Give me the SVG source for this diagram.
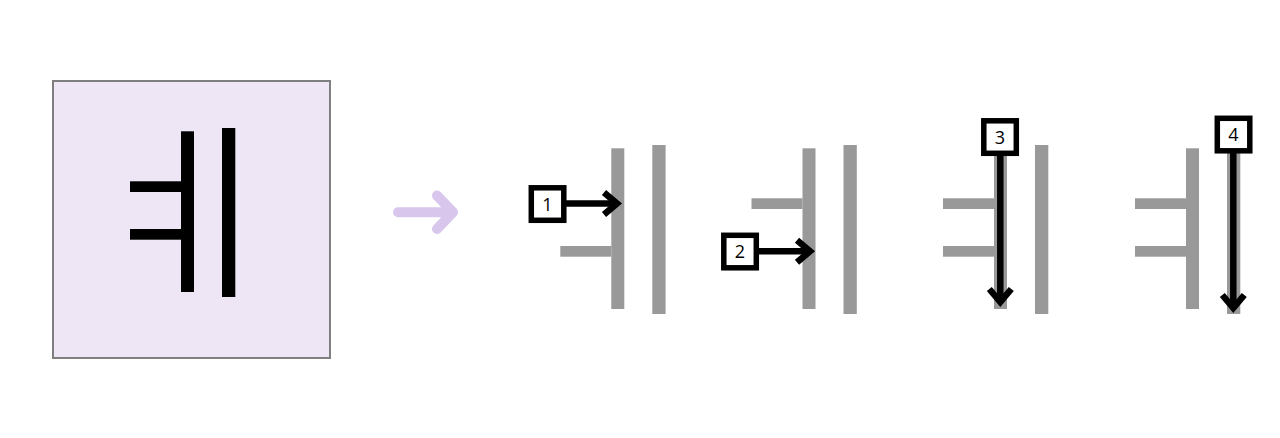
<svg xmlns="http://www.w3.org/2000/svg" width="1280" height="438" viewBox="0 0 1280 438">
  <style>
    .stk { fill: #999999; }
    .blk { fill: #000000; }
    .numbox { fill: #ffffff; stroke: #000000; stroke-width: 5.5; }
    .num { font-family: "Open Sans", "Lato", "Liberation Sans", sans-serif; font-weight: 400; font-size: 18px; fill: #000000; text-anchor: middle; }
    .arr { stroke: #000000; stroke-width: 6.5; fill: none; marker-end: url(#chev); }
    .big { stroke: #d9c6ec; stroke-width: 10; fill: none; stroke-linecap: round; stroke-linejoin: round; }
  </style>
  <defs>
    <marker id="chev" markerUnits="userSpaceOnUse" viewBox="-25 -20 40 40" refX="0" refY="0" markerWidth="40" markerHeight="40" orient="auto" overflow="visible">
      <path d="M -13 -11 L 0 0 L -13 11" fill="none" stroke="#000000" stroke-width="6.5" stroke-linejoin="miter" stroke-miterlimit="10"/>
    </marker>
    <rect id="hUp" x="-51" y="53.3" width="51" height="10.7"/>
    <rect id="hLo" x="-51" y="101" width="51" height="10.7"/>
    <rect id="v1" x="0" y="3.3" width="13" height="160.7"/>
    <rect id="v2" x="41" y="0" width="13.3" height="169"/>
  </defs>

  <g id="char-box">
    <rect x="53" y="81" width="277" height="277" fill="#eee6f4" stroke="#7f7f7f" stroke-width="2"/>
    <g class="blk" transform="translate(181,128)">
      <use href="#hUp"/>
      <use href="#hLo"/>
      <use href="#v1"/>
      <use href="#v2"/>
    </g>
  </g>

  <g id="step1">
    <g class="stk" transform="translate(611.3,145)">
      <use href="#hLo"/>
      <use href="#v1"/>
      <use href="#v2"/>
    </g>
  </g>
  <g id="step2">
    <g class="stk" transform="translate(802.5,145)">
      <use href="#hUp"/>
      <use href="#v1"/>
      <use href="#v2"/>
    </g>
  </g>
  <g id="step3">
    <g class="stk" transform="translate(994,145)">
      <use href="#hUp"/>
      <use href="#hLo"/>
      <use href="#v1"/>
      <use href="#v2"/>
    </g>
  </g>
  <g id="step4">
    <g class="stk" transform="translate(1186,145)">
      <use href="#hUp"/>
      <use href="#hLo"/>
      <use href="#v1"/>
      <use href="#v2"/>
    </g>
  </g>

  <g id="connectors">
    <path class="big" d="M 398 212.3 L 452 212.3 M 437 195.5 L 453 212.3 L 437 229"/>
    <line class="arr" x1="566" y1="203.5" x2="617" y2="203.5"/>
    <line class="arr" x1="758" y1="251.3" x2="810" y2="251.3"/>
    <line class="arr" x1="1000.3" y1="155" x2="1000.3" y2="302"/>
    <line class="arr" x1="1233.3" y1="152.5" x2="1233.3" y2="308"/>
  </g>

  <g id="label1">
    <rect class="numbox" x="531.3" y="187.8" width="32.5" height="32.5"/>
    <text class="num" x="547.5" y="210.5">1</text>
  </g>
  <g id="label2">
    <rect class="numbox" x="723.8" y="235.3" width="32.5" height="32.5"/>
    <text class="num" x="740" y="258">2</text>
  </g>
  <g id="label3">
    <rect class="numbox" x="983.8" y="120.8" width="32.5" height="32.5"/>
    <text class="num" x="1000" y="143.5">3</text>
  </g>
  <g id="label4">
    <rect class="numbox" x="1217.3" y="118.3" width="32.5" height="32.5"/>
    <text class="num" x="1233.5" y="141">4</text>
  </g>
</svg>
